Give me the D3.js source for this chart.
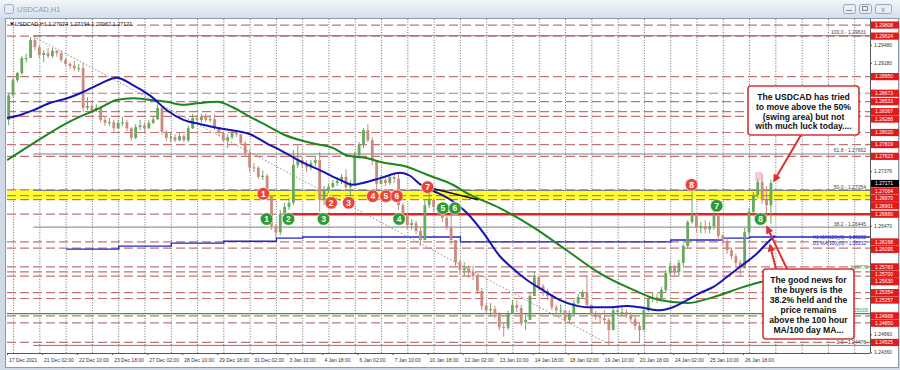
<!DOCTYPE html>
<html>
<head>
<meta charset="utf-8">
<script src="https://cdn.jsdelivr.net/npm/d3@7"></script>
<style>
  body { margin: 0; background: #cfdae7; }
  svg { display: block; font-family: "Liberation Sans", Arial, sans-serif; }
</style>
</head>
<body>
<script>
// time axis labels, one every 32 hourly bars
const dateLabels = ['17 Dec 2021', '21 Dec 02:00', '22 Dec 10:00', '23 Dec 18:00', '27 Dec 02:00',
  '28 Dec 10:00', '29 Dec 18:00', '31 Dec 02:00', '3 Jan 10:00', '4 Jan 18:00', '6 Jan 02:00',
  '7 Jan 10:00', '10 Jan 18:00', '12 Jan 02:00', '13 Jan 10:00', '14 Jan 18:00', '18 Jan 02:00',
  '19 Jan 10:00', '20 Jan 18:00', '24 Jan 02:00', '25 Jan 10:00', '26 Jan 18:00'];

const priceTicks = [1.29480, 1.29180, 1.28880, 1.28580, 1.28280, 1.27980, 1.27680, 1.27376, 1.27073,
  1.26770, 1.26470, 1.26165, 1.25865, 1.25565, 1.25260, 1.24960, 1.24660, 1.24360];

// price levels marked with red tags on the right
const redLevels = [1.29808, 1.29624, 1.28950, 1.28673, 1.28533, 1.28367, 1.28288, 1.28020, 1.27819,
  1.27623, 1.27064, 1.26970, 1.26901, 1.26660, 1.26198, 1.26095, 1.25783, 1.25700, 1.25630, 1.25354,
  1.25257, 1.24968, 1.24850, 1.24525];

const fibPct = ['100.0', '61.8', '50.0', '38.2', '0.0'];
const fibPrices = [1.29631, 1.27662, 1.27054, 1.26445, 1.24476];
const lastPrice = 1.27171;

// 4 hour candles (open = previous close)
const firstOpen = 1.2823;
const closes = [
  1.2864, 1.2889, 1.2901, 1.2926, 1.2926, 1.2956, 1.2944, 1.2931, 1.2934, 1.2929,
  1.2938, 1.2934, 1.2923, 1.2916, 1.2913, 1.2909, 1.2909, 1.2843, 1.2846, 1.2839,
  1.2843, 1.2823, 1.2818, 1.2819, 1.2809, 1.2818, 1.2819, 1.2809, 1.2793, 1.2811,
  1.2814, 1.2809, 1.2818, 1.2824, 1.2843, 1.2803, 1.2793, 1.2794, 1.2789, 1.2796,
  1.2789, 1.2809, 1.2826, 1.2823, 1.2828, 1.2823, 1.2824, 1.2809, 1.2801, 1.2789,
  1.2794, 1.2801, 1.2799, 1.2784, 1.2768, 1.2744, 1.2743, 1.2728, 1.2730, 1.2698,
  1.2646, 1.2636, 1.2666, 1.2678, 1.2685, 1.2748, 1.2756, 1.2749, 1.2744, 1.2751,
  1.2756, 1.2690, 1.2705, 1.2711, 1.2718, 1.2721, 1.2728, 1.2711, 1.2715, 1.2764,
  1.2781, 1.2806, 1.2789, 1.2756, 1.2716, 1.2723, 1.2718, 1.2728, 1.2725, 1.2681,
  1.2665, 1.2648, 1.2651, 1.2638, 1.2623, 1.2681, 1.2690, 1.2678, 1.2673, 1.2660,
  1.2644, 1.2623, 1.2586, 1.2573, 1.2576, 1.2570, 1.2563, 1.2538, 1.2513, 1.2506,
  1.2508, 1.2500, 1.2478, 1.2477, 1.2500, 1.2515, 1.2510, 1.2486, 1.2490, 1.2530,
  1.2561, 1.2546, 1.2538, 1.2530, 1.2511, 1.2506, 1.2506, 1.2490, 1.2501, 1.2518,
  1.2528, 1.2536, 1.2515, 1.2501, 1.2495, 1.2493, 1.2490, 1.2473, 1.2506, 1.2503,
  1.2503, 1.2498, 1.2491, 1.2480, 1.2473, 1.2506, 1.2525, 1.2528, 1.2525, 1.2540,
  1.2568, 1.2580, 1.2570, 1.2585, 1.2613, 1.2653, 1.2666, 1.2643, 1.2646, 1.2641,
  1.2646, 1.2665, 1.2630, 1.2621, 1.2606, 1.2596, 1.2585, 1.2576, 1.2636, 1.2670,
  1.2698, 1.2720, 1.2690, 1.2681, 1.2718];
const highs = [
  1.2868, 1.2893, 1.2903, 1.2929, 1.2933, 1.2961, 1.2963, 1.2948, 1.2939, 1.2943,
  1.2943, 1.2939, 1.2939, 1.2926, 1.2919, 1.2921, 1.2916, 1.2918, 1.2861, 1.2851,
  1.2849, 1.2846, 1.2829, 1.2826, 1.2823, 1.2823, 1.2828, 1.2823, 1.2811, 1.2816,
  1.2823, 1.2819, 1.2823, 1.2829, 1.2849, 1.2846, 1.2806, 1.2801, 1.2799, 1.2803,
  1.2799, 1.2813, 1.2833, 1.2831, 1.2833, 1.2833, 1.2831, 1.2833, 1.2811, 1.2803,
  1.2799, 1.2806, 1.2806, 1.2798, 1.2788, 1.2773, 1.2751, 1.2746, 1.2739, 1.2733,
  1.2698, 1.2650, 1.2673, 1.2685, 1.2693, 1.2773, 1.2780, 1.2761, 1.2756, 1.2756,
  1.2763, 1.2770, 1.2713, 1.2716, 1.2723, 1.2728, 1.2733, 1.2741, 1.2723, 1.2770,
  1.2786, 1.2809, 1.2816, 1.2794, 1.2756, 1.2731, 1.2726, 1.2733, 1.2733, 1.2736,
  1.2685, 1.2668, 1.2658, 1.2655, 1.2643, 1.2690, 1.2710, 1.2693, 1.2683, 1.2676,
  1.2663, 1.2676, 1.2623, 1.2590, 1.2586, 1.2581, 1.2580, 1.2566, 1.2543, 1.2518,
  1.2518, 1.2513, 1.2503, 1.2486, 1.2506, 1.2523, 1.2523, 1.2515, 1.2500, 1.2535,
  1.2571, 1.2563, 1.2550, 1.2541, 1.2533, 1.2515, 1.2516, 1.2506, 1.2506, 1.2523,
  1.2533, 1.2540, 1.2563, 1.2516, 1.2505, 1.2501, 1.2506, 1.2493, 1.2510, 1.2513,
  1.2511, 1.2508, 1.2503, 1.2496, 1.2486, 1.2511, 1.2530, 1.2535, 1.2533, 1.2545,
  1.2573, 1.2586, 1.2581, 1.2590, 1.2616, 1.2656, 1.2713, 1.2666, 1.2653, 1.2656,
  1.2653, 1.2670, 1.2666, 1.2633, 1.2626, 1.2610, 1.2600, 1.2590, 1.2643, 1.2676,
  1.2703, 1.2726, 1.2733, 1.2713, 1.2723];
const lows = [
  1.2814, 1.2861, 1.2886, 1.2898, 1.2918, 1.2931, 1.2939, 1.2926, 1.2919, 1.2926,
  1.2926, 1.2928, 1.2919, 1.2913, 1.2908, 1.2904, 1.2903, 1.2836, 1.2839, 1.2836,
  1.2836, 1.2819, 1.2813, 1.2813, 1.2803, 1.2808, 1.2813, 1.2804, 1.2788, 1.2791,
  1.2806, 1.2803, 1.2808, 1.2816, 1.2823, 1.2799, 1.2788, 1.2786, 1.2786, 1.2788,
  1.2786, 1.2786, 1.2808, 1.2818, 1.2819, 1.2819, 1.2819, 1.2806, 1.2796, 1.2786,
  1.2776, 1.2791, 1.2794, 1.2781, 1.2763, 1.2736, 1.2736, 1.2725, 1.2723, 1.2690,
  1.2640, 1.2626, 1.2631, 1.2666, 1.2673, 1.2681, 1.2743, 1.2743, 1.2736, 1.2739,
  1.2746, 1.2670, 1.2681, 1.2701, 1.2710, 1.2713, 1.2716, 1.2706, 1.2696, 1.2715,
  1.2759, 1.2776, 1.2786, 1.2748, 1.2708, 1.2716, 1.2713, 1.2715, 1.2718, 1.2673,
  1.2656, 1.2641, 1.2640, 1.2633, 1.2613, 1.2623, 1.2676, 1.2670, 1.2665, 1.2653,
  1.2640, 1.2615, 1.2580, 1.2566, 1.2563, 1.2560, 1.2556, 1.2533, 1.2506, 1.2500,
  1.2496, 1.2493, 1.2473, 1.2462, 1.2473, 1.2500, 1.2503, 1.2480, 1.2473, 1.2493,
  1.2530, 1.2540, 1.2530, 1.2523, 1.2506, 1.2500, 1.2500, 1.2483, 1.2486, 1.2498,
  1.2516, 1.2525, 1.2510, 1.2496, 1.2490, 1.2486, 1.2483, 1.2448, 1.2486, 1.2496,
  1.2496, 1.2493, 1.2485, 1.2473, 1.2453, 1.2473, 1.2503, 1.2520, 1.2518, 1.2523,
  1.2536, 1.2563, 1.2563, 1.2563, 1.2580, 1.2610, 1.2650, 1.2636, 1.2634, 1.2634,
  1.2634, 1.2640, 1.2623, 1.2615, 1.2600, 1.2591, 1.2580, 1.2563, 1.2576, 1.2630,
  1.2666, 1.2693, 1.2683, 1.2653, 1.2650];

// moving averages as [hourly bar, price]
const ma100 = [[0, 1.2826], [12, 1.2831], [24, 1.2839], [39, 1.2851], [55, 1.2859], [69, 1.2869],
  [85, 1.2883], [100, 1.2893], [115, 1.2881], [131, 1.2863], [146, 1.2839], [161, 1.2823],
  [176, 1.2816], [194, 1.2809], [222, 1.2799], [237, 1.2784], [249, 1.2773], [268, 1.2754],
  [286, 1.2739], [304, 1.2723], [316, 1.2715], [325, 1.2718], [341, 1.2726], [359, 1.2735],
  [368, 1.2730], [377, 1.2716], [389, 1.2705], [405, 1.2690], [420, 1.2668], [435, 1.2635],
  [450, 1.2596], [459, 1.2580], [475, 1.2556], [489, 1.2540], [505, 1.2523], [517, 1.2515],
  [530, 1.2511], [548, 1.2511], [566, 1.2513], [578, 1.2511], [596, 1.2506], [608, 1.2511],
  [621, 1.2523], [633, 1.2535], [645, 1.2545], [657, 1.2561], [669, 1.2578], [685, 1.2601],
  [694, 1.2618], [701, 1.2630]];
const ma200 = [[0, 1.2756], [24, 1.2784], [55, 1.2818], [85, 1.2843], [100, 1.2856], [115, 1.2859],
  [131, 1.2856], [146, 1.2853], [161, 1.2848], [176, 1.2851], [192, 1.2853], [206, 1.2844],
  [222, 1.2828], [237, 1.2814], [252, 1.2799], [268, 1.2789], [279, 1.2784], [298, 1.2776],
  [310, 1.2764], [329, 1.2759], [341, 1.2753], [365, 1.2745], [386, 1.2730], [407, 1.2715],
  [420, 1.2701], [450, 1.2676], [480, 1.2645], [511, 1.2606], [541, 1.2568], [572, 1.2540],
  [596, 1.2523], [621, 1.2518], [645, 1.2528], [669, 1.2543], [688, 1.2553], [706, 1.2561]];
// daily 100 MA shown as a step line
const dailyMA = [[54, 1.2608], [102, 1.2613], [150, 1.2618], [198, 1.2621], [246, 1.2626],
  [270, 1.2628], [414, 1.2620], [606, 1.2623], [654, 1.2626], [678, 1.2628]];

const trendLine = [[27, 1.2959], [548, 1.2451]];
const darkLine = [[386, 1.2710], [430, 1.2690]];
const yellowZone = [1.2708, 1.2691];
const supportLevel = 1.26660;
const supportStart = 254;
const greenLevel = 1.25005;

const redMarks = [[234, 1.2700], [296, 1.2685], [312, 1.2685], [334, 1.2696], [346, 1.2696],
  [356, 1.2696], [384, 1.2711], [625, 1.2715]];
const greenMarks = [[237, 1.2658], [257, 1.2658], [289, 1.2658], [358, 1.2658], [398, 1.2676],
  [409, 1.2676], [648, 1.2680], [688, 1.2658]];

const note1 = ['The USDCAD has tried', 'to move above the 50%', '(swing area) but not', 'with much luck today....'];
const note2 = ['The good news for', 'the buyers is the', '38.2% held and the', 'price remains',
  'above the 100 hour', 'MA/100 day MA...'];

const W = 900, H = 370;
const plot = { left: 7, top: 19, right: 870, bottom: 353 };

const svg = d3.select('body').append('svg')
  .attr('width', W)
  .attr('height', H);

const x = d3.scaleLinear().domain([0, 672]).range([7, 743]);
const y = d3.scaleLinear().domain([1.24476, 1.29631]).range([345.4, 35.7]);

const defs = svg.append('defs');
const grad = defs.append('linearGradient').attr('id', 'tb')
  .attr('x1', 0).attr('y1', 0).attr('x2', 0).attr('y2', 1);
grad.append('stop').attr('offset', '0%').attr('stop-color', '#f3f6fa');
grad.append('stop').attr('offset', '100%').attr('stop-color', '#d5dfea');
defs.append('clipPath').attr('id', 'plotclip')
  .append('rect')
  .attr('x', plot.left).attr('y', plot.top)
  .attr('width', plot.right - plot.left).attr('height', plot.bottom - plot.top);
defs.append('marker').attr('id', 'arr')
  .attr('viewBox', '0 0 10 10').attr('refX', 8).attr('refY', 5)
  .attr('markerWidth', 4).attr('markerHeight', 4).attr('orient', 'auto')
  .append('path').attr('d', 'M0,0L10,5L0,10z').attr('fill', '#e03030');

//window chrome
svg.append('rect').attr('width', W).attr('height', H).attr('fill', '#cfdae7');
svg.append('rect').attr('width', W).attr('height', 18).attr('fill', 'url(#tb)');
svg.append('rect')
  .attr('x', 5.5).attr('y', 18.5).attr('width', 893).attr('height', 349)
  .attr('fill', '#fff').attr('stroke', '#8d99a8');
svg.append('rect').attr('x', 4.5).attr('y', 4.5).attr('width', 9).attr('height', 9).attr('rx', 2)
  .attr('fill', '#e4ecf5').attr('stroke', '#9eacbd');
svg.append('text').attr('x', 17).attr('y', 12).attr('font-size', 7.5).attr('fill', '#8c98a8')
  .text('USDCAD,H1');
[[843, 12], [859, 12], [875, 16]].forEach(b => {
  svg.append('rect').attr('x', b[0] + 0.5).attr('y', 4.5).attr('width', b[1]).attr('height', 9).attr('rx', 2)
    .attr('fill', '#e8eef5').attr('stroke', '#9aa7b8');
});
svg.append('line').attr('x1', 846).attr('x2', 852).attr('y1', 10.5).attr('y2', 10.5).attr('stroke', '#7b8899');
svg.append('rect').attr('x', 862.5).attr('y', 6.5).attr('width', 5).attr('height', 4).attr('fill', 'none').attr('stroke', '#7b8899');
svg.append('text').attr('x', 883).attr('y', 11.5).attr('font-size', 7).attr('text-anchor', 'middle')
  .attr('fill', '#7b8899').text('x');

let chartGroup = svg.append('g').attr('clip-path', 'url(#plotclip)');

//daily vertical grid
chartGroup.selectAll('.vgrid')
  .data(d3.range(0, 34).map(k => 6 + 24 * k))
  .enter().append('line')
  .attr('x1', d => x(d)).attr('x2', d => x(d))
  .attr('y1', plot.top).attr('y2', plot.bottom)
  .attr('stroke', '#6d6d6d').attr('stroke-dasharray', '1,1.6');

//yellow swing area
chartGroup.append('rect')
  .attr('x', plot.left).attr('width', plot.right - plot.left)
  .attr('y', y(yellowZone[0])).attr('height', y(yellowZone[1]) - y(yellowZone[0]))
  .attr('fill', '#ffff2e');

//red dashed price levels
chartGroup.selectAll('.lvl')
  .data(redLevels)
  .enter().append('line')
  .attr('x1', plot.left).attr('x2', plot.right)
  .attr('y1', d => y(d)).attr('y2', d => y(d))
  .attr('stroke', '#c27474').attr('stroke-width', 1.2).attr('stroke-dasharray', '9,4');

//fibonacci levels
chartGroup.selectAll('.fib')
  .data(fibPrices)
  .enter().append('line')
  .attr('x1', x(24)).attr('x2', plot.right)
  .attr('y1', d => y(d)).attr('y2', d => y(d))
  .attr('stroke', '#7d7d7d').attr('stroke-width', 1);

//38.2 support line
chartGroup.append('line')
  .attr('x1', x(supportStart)).attr('x2', plot.right)
  .attr('y1', y(supportLevel)).attr('y2', y(supportLevel))
  .attr('stroke', '#e42222').attr('stroke-width', 2.6);

chartGroup.append('line')
  .attr('x1', plot.left).attr('x2', plot.right)
  .attr('y1', y(greenLevel)).attr('y2', y(greenLevel))
  .attr('stroke', '#3a9a3a').attr('stroke-width', 1.2);

const stepLine = d3.line()
  .x(d => x(d[0]))
  .y(d => y(d[1]))
  .curve(d3.curveStepAfter);
chartGroup.append('path')
  .datum(dailyMA.concat([[800, dailyMA[dailyMA.length - 1][1]]]))
  .attr('d', stepLine)
  .attr('fill', 'none').attr('stroke', '#2525c8').attr('stroke-width', 1.3);

const straight = d3.line().x(d => x(d[0])).y(d => y(d[1]));
chartGroup.append('path')
  .datum(trendLine)
  .attr('d', straight)
  .attr('fill', 'none').attr('stroke', '#8a8a8a').attr('stroke-dasharray', '1.5,2');

//candles
const candles = closes.map((c, i) => ({
  bar: 4 * i + 1.5,
  open: i === 0 ? firstOpen : closes[i - 1],
  close: c,
  high: highs[i],
  low: lows[i]
}));
const upColor = '#68a860', downColor = '#c98b7e';

chartGroup.selectAll('.wick')
  .data(candles)
  .enter().append('line')
  .attr('x1', d => x(d.bar)).attr('x2', d => x(d.bar))
  .attr('y1', d => y(Math.max(d.high, d.open, d.close)))
  .attr('y2', d => y(Math.min(d.low, d.open, d.close)))
  .attr('stroke', d => d.close >= d.open ? upColor : downColor)
  .attr('stroke-width', 1);

chartGroup.selectAll('.body')
  .data(candles)
  .enter().append('rect')
  .attr('x', d => x(d.bar) - 1.4)
  .attr('width', 2.8)
  .attr('y', d => y(Math.max(d.open, d.close)))
  .attr('height', d => Math.max(1, Math.abs(y(d.open) - y(d.close))))
  .attr('fill', d => d.close >= d.open ? upColor : downColor);

//moving averages
const curve = d3.line()
  .x(d => x(d[0]))
  .y(d => y(d[1]))
  .curve(d3.curveMonotoneX);
chartGroup.append('path').datum(ma200).attr('d', curve)
  .attr('fill', 'none').attr('stroke', '#1b861b').attr('stroke-width', 2);
chartGroup.append('path').datum(ma100).attr('d', curve)
  .attr('fill', 'none').attr('stroke', '#1414b4').attr('stroke-width', 2);
chartGroup.append('path').datum(darkLine).attr('d', straight)
  .attr('fill', 'none').attr('stroke', '#111').attr('stroke-width', 1.5);

chartGroup.append('rect')
  .attr('x', 755).attr('y', 172).attr('width', 7).attr('height', 9)
  .attr('fill', '#f2a9b8').attr('opacity', 0.6);

//numbered touch markers
function drawMarks(data, color) {
  let g = chartGroup.selectAll(null)
    .data(data)
    .enter().append('g')
    .attr('transform', d => `translate(${x(d[0])}, ${y(d[1])})`);
  g.append('circle').attr('r', 6.3).attr('fill', color).attr('stroke', '#fff').attr('stroke-width', 0.6);
  g.append('text')
    .attr('text-anchor', 'middle').attr('dy', '0.36em')
    .attr('font-size', 8.5).attr('font-weight', 'bold').attr('fill', '#fff')
    .text((d, i) => i + 1);
}
drawMarks(redMarks, '#e9443a');
drawMarks(greenMarks, '#2f9a35');

//level texts
chartGroup.selectAll('.fibtxt')
  .data(fibPrices)
  .enter().append('text')
  .attr('x', 866).attr('y', d => y(d) - 1.5)
  .attr('text-anchor', 'end').attr('font-size', 5).attr('fill', '#444')
  .text((d, i) => `${fibPct[i]} - ${d.toFixed(5)}`);
chartGroup.append('text').attr('x', 866).attr('y', y(1.26262) + 0.5)
  .attr('text-anchor', 'end').attr('font-size', 4.8).attr('fill', '#2727c8')
  .text('H1 MA(100)(0) - 1.26262');
chartGroup.append('text').attr('x', 866).attr('y', y(1.26232) + 5.5)
  .attr('text-anchor', 'end').attr('font-size', 4.8).attr('fill', '#2727c8')
  .text('D1 MA(100)(0) - 1.26232');
chartGroup.append('text').attr('x', 868).attr('y', y(1.25771) + 1)
  .attr('text-anchor', 'end').attr('font-size', 5).attr('fill', '#2f9a35')
  .text('1.25771');
chartGroup.append('text').attr('x', 868).attr('y', y(greenLevel) - 1.5)
  .attr('text-anchor', 'end').attr('font-size', 5).attr('fill', '#2f9a35')
  .text('1.25005');

chartGroup.append('path').attr('d', 'M10,22.5l4,0l-2,3z').attr('fill', '#222');
chartGroup.append('text').attr('x', 15).attr('y', 26).attr('font-size', 5.5).attr('fill', '#111')
  .text('USDCAD,H1  1.27074 1.27194 1.27062 1.27171');

//axes
svg.append('line').attr('x1', plot.right + 0.5).attr('x2', plot.right + 0.5)
  .attr('y1', plot.top).attr('y2', plot.bottom).attr('stroke', '#555');
svg.append('line').attr('x1', plot.left).attr('x2', plot.right)
  .attr('y1', plot.bottom + 0.5).attr('y2', plot.bottom + 0.5).attr('stroke', '#555');

//price tags, nudged apart where they would sit on top of each other
let tagData = redLevels.map(v => ({ v: v, c: '#e41a1a' }))
  .concat([{ v: lastPrice, c: '#000' }])
  .sort((a, b) => b.v - a.v);
let prevY = -100;
tagData.forEach(d => {
  d.ty = Math.max(y(d.v), prevY + 7.4);
  prevY = d.ty;
});

// tick labels that sit under a tag are hidden, as on the terminal
const shownTicks = priceTicks.filter(t => tagData.every(d => Math.abs(d.ty - y(t)) > 6.5));

const rightAxis = d3.axisRight(y)
  .tickValues(shownTicks)
  .tickSize(2)
  .tickFormat(d3.format('.5f'));
let yAxisG = svg.append('g')
  .attr('transform', `translate(${plot.right}, 0)`)
  .call(rightAxis);
yAxisG.select('.domain').remove();
yAxisG.selectAll('line').attr('stroke', '#555');
yAxisG.selectAll('text').attr('font-size', 5).attr('fill', '#333').attr('x', 4);

let tags = svg.selectAll('.tag')
  .data(tagData)
  .enter().append('g')
  .attr('transform', d => `translate(${plot.right + 1}, ${d.ty})`);
tags.append('rect').attr('x', 0).attr('y', -3.6).attr('width', 28).attr('height', 7.2).attr('fill', d => d.c);
tags.append('text').attr('x', 4).attr('y', 1.8).attr('font-size', 5).attr('fill', '#fff')
  .text(d => d.v.toFixed(5));

const bottomAxis = d3.axisBottom(x)
  .tickValues(d3.range(0, dateLabels.length).map(i => i * 32))
  .tickSize(2)
  .tickFormat((d, i) => dateLabels[i]);
let xAxisG = svg.append('g')
  .attr('transform', `translate(0, ${plot.bottom})`)
  .call(bottomAxis);
xAxisG.select('.domain').remove();
xAxisG.selectAll('line').attr('stroke', '#555');
xAxisG.selectAll('text').attr('font-size', 5).attr('fill', '#333')
  .attr('text-anchor', 'start').attr('x', 1.5);

//annotation boxes and arrows
function noteBox(lines, bx, by, bw, bh, lineH) {
  svg.append('rect')
    .attr('x', bx).attr('y', by).attr('width', bw).attr('height', bh).attr('rx', 3)
    .attr('fill', '#fff').attr('stroke', '#d23434').attr('stroke-width', 1.6);
  svg.selectAll(null)
    .data(lines)
    .enter().append('text')
    .attr('x', bx + bw / 2)
    .attr('y', (d, i) => by + 14 + i * lineH)
    .attr('text-anchor', 'middle')
    .attr('font-size', 8.6).attr('font-weight', 'bold').attr('fill', '#111')
    .text(d => d);
}
noteBox(note1, 748, 86, 111, 49, 9.8);
noteBox(note2, 763, 269, 91, 70, 9.9);

[[801, 135, 774, 181], [787, 269, 767, 227], [776, 269, 770, 245]].forEach(a => {
  svg.append('line')
    .attr('x1', a[0]).attr('y1', a[1]).attr('x2', a[2]).attr('y2', a[3])
    .attr('stroke', '#e03030').attr('stroke-width', 2)
    .attr('marker-end', 'url(#arr)');
});
</script>
</body>
</html>
